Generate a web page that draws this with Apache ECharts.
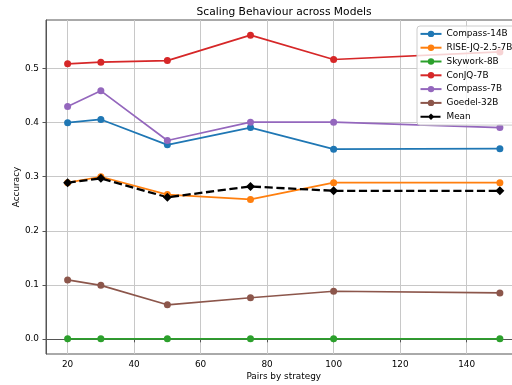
<!DOCTYPE html>
<html>
<head>
<meta charset="utf-8">
<script src="https://cdn.jsdelivr.net/npm/echarts@6/dist/echarts.min.js"></script>
<style>html,body{margin:0;padding:0;background:#fff;}#c{width:512px;height:385px;}</style>
</head>
<body>
<div id="c"></div>
<script>
const pairs = [20, 30, 50, 75, 100, 150];
const compass14B = [0.400, 0.406, 0.359, 0.391, 0.351, 0.352];
const riseJQ = [0.289, 0.300, 0.267, 0.258, 0.289, 0.289];
const skywork8B = [0, 0, 0, 0, 0, 0];
const conJQ7B = [0.509, 0.512, 0.515, 0.562, 0.517, 0.531];
const compass7B = [0.430, 0.459, 0.367, 0.401, 0.401, 0.391];
const goedel32B = [0.109, 0.099, 0.063, 0.076, 0.088, 0.085];
const meanVals = [0.289, 0.297, 0.262, 0.282, 0.274, 0.274];
const xTicks = [20, 40, 60, 80, 100, 120, 140];
const yTicks = [0.0, 0.1, 0.2, 0.3, 0.4, 0.5];

const FONT = '"DejaVu Sans", sans-serif';
const FS = 8.9;
const names = ['Compass-14B', 'RISE-JQ-2.5-7B', 'Skywork-8B', 'ConJQ-7B', 'Compass-7B', 'Goedel-32B'];
const vals = [compass14B, riseJQ, skywork8B, conJQ7B, compass7B, goedel32B];
const colors = ['#1f77b4', '#ff7f0e', '#2ca02c', '#d62728', '#9467bd', '#8c564b'];

const series = names.map((n, i) => ({
  name: n, type: 'line',
  data: pairs.map((x, j) => [x, vals[i][j]]),
  symbol: 'circle', symbolSize: 7, showSymbol: true,
  itemStyle: { color: colors[i] },
  lineStyle: { color: colors[i], width: 1.7 },
  emphasis: { disabled: true }
}));
series.push({
  name: 'Mean', type: 'line',
  data: pairs.map((x, j) => [x, meanVals[j]]),
  symbol: 'diamond', symbolSize: 9,
  itemStyle: { color: '#000' },
  lineStyle: { color: '#000', width: 2.3, type: [8.2, 3.6] },
  emphasis: { disabled: true }
});

const chart = echarts.init(document.getElementById('c'), null, { renderer: 'canvas' });
chart.setOption({
  animation: false,
  backgroundColor: '#fff',
  textStyle: { fontFamily: FONT },
  grid: { left: 46, top: 20, bottom: 31, right: -9.5, show: true, borderColor: '#555', borderWidth: 1, containLabel: false, outerBoundsMode: 'none' },
  graphic: [{
    type: 'text', x: 284, y: 12,
    style: { text: 'Scaling Behaviour across Models', fill: '#000', font: '10.7px "DejaVu Sans"', align: 'center', verticalAlign: 'middle', textAlign: 'center', textVerticalAlign: 'middle' }
  }],
  xAxis: {
    type: 'value', min: 13.5, max: 156.5,
    name: 'Pairs by strategy', nameLocation: 'middle', nameGap: 18, nameMoveOverlap: false,
    nameTextStyle: { color: '#000', fontSize: FS, fontFamily: FONT },
    axisLine: { show: true, lineStyle: { color: '#555', width: 1 } },
    axisTick: { show: true, inside: false, length: 3.5, lineStyle: { color: '#555' }, customValues: xTicks },
    axisLabel: { color: '#000', fontSize: FS, fontFamily: FONT, margin: 6, customValues: xTicks, formatter: v => String(Math.round(v)) },
    splitLine: { show: true, lineStyle: { color: '#c8c8c8', width: 1 } }
  },
  yAxis: {
    type: 'value', min: -0.0281, max: 0.5901,
    name: 'Accuracy', nameLocation: 'middle', nameGap: 25, nameMoveOverlap: false,
    nameTextStyle: { color: '#000', fontSize: FS, fontFamily: FONT },
    axisLine: { show: true, lineStyle: { color: '#555', width: 1 } },
    axisTick: { show: true, inside: false, length: 3.5, lineStyle: { color: '#555' }, customValues: yTicks },
    axisLabel: { color: '#000', fontSize: FS, fontFamily: FONT, margin: 7, customValues: yTicks, formatter: v => v.toFixed(1) },
    splitLine: { show: true, lineStyle: { color: '#c8c8c8', width: 1 } }
  },
  legend: {
    orient: 'vertical', left: 417, top: 26,
    padding: [1, 6, 1.5, 2.5],
    itemWidth: 21, itemHeight: 8, itemGap: 0,
    backgroundColor: 'rgba(255,255,255,0.8)', borderColor: '#cccccc', borderWidth: 1, borderRadius: 3,
    textStyle: { color: '#000', fontSize: FS, fontFamily: FONT, lineHeight: 13.8 },
    data: names.concat(['Mean'])
  },
  series: series
});
</script>
</body>
</html>
